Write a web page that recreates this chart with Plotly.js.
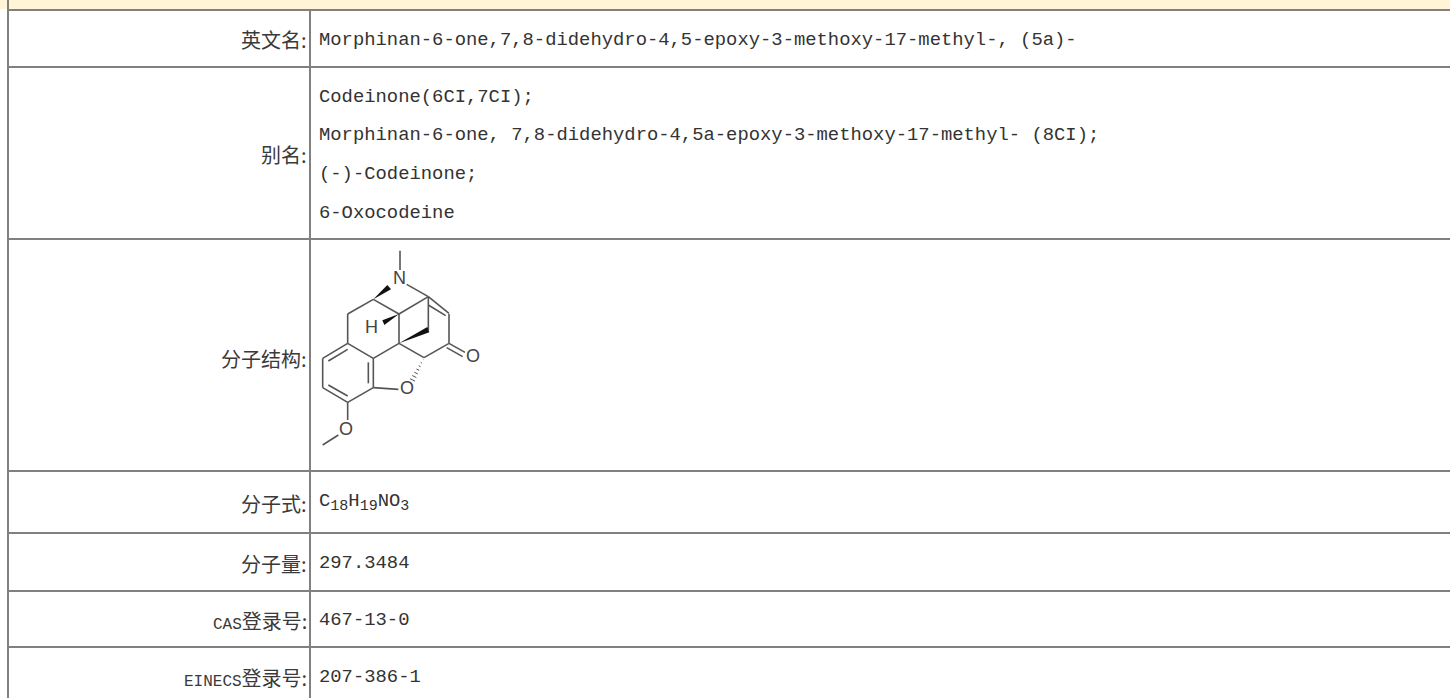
<!DOCTYPE html>
<html><head><meta charset="utf-8">
<script src="https://cdn.plot.ly/plotly-3.0.1.min.js"></script>
<style>html,body{margin:0;padding:0;background:#fff}#c{width:1450px;height:698px}</style>
</head><body><div id="c"></div>
<script>
const rowLinesY=[10,67,239,471,533,591,647];
const latin='font-family:Liberation Mono;font-size:16px';
const lat=s=>'<span style="'+latin+'">'+s+'</span>';
const labels=["英文名:","别名:","分子结构:","分子式:","分子量:",lat("CAS")+"登录号:",lat("EINECS")+"登录号:"];
const labelY=[39,154,358,503,563,620,677];
const sub=s=>'<sub><span style="font-size:15px">'+s+'</span></sub>';
const valueLines=[
 ["Morphinan-6-one,7,8-didehydro-4,5-epoxy-3-methoxy-17-methyl-, (5a)-",40],
 ["Codeinone(6CI,7CI);",97],
 ["Morphinan-6-one, 7,8-didehydro-4,5a-epoxy-3-methoxy-17-methyl- (8CI);",135],
 ["(-)-Codeinone;",174],
 ["6-Oxocodeine",213],
 ["C"+sub("18")+"H"+sub("19")+"NO"+sub("3"),502],
 ["297.3484",563],
 ["467-13-0",620],
 ["207-386-1",677]
];
const bonds=[[[300,47],[300,105]],[[320,148],[385,185]],[[220,193],[297,237]],[[220,193],[143,237]],[[143,237],[143,325]],
[[297,237],[385,185]],[[385,185],[447,235]],[[385,210],[437,242]],[[447,237],[447,325]],[[447,325],[495,352]],[[440,338],[488,365]],
[[447,325],[372,368]],[[372,368],[297,325]],[[220,458],[295,463]],[[143,325],[220,370]],[[220,370],[220,458]],[[220,458],[143,502]],
[[143,502],[68,458]],[[68,458],[68,370]],[[68,370],[143,325]],[[143,343],[85,378]],[[205,382],[205,445]],[[85,450],[143,483]],
[[297,237],[297,325]],[[297,325],[220,370]],[[385,285],[385,185]],[[143,502],[143,555]],[[115,600],[68,630]]];
const wedges=[[[220,193],[262,150],[273,163]],[[297,237],[247,256],[253,270]],[[297,325],[382,276],[388,292]]];
const hash=[[372,368],[335,440]];
const atoms=[["N",298,130],["H",215,275],["O",518,362],["O",320,458],["O",137,582]];
const mx=v=>300+v/3, my=v=>235+v/3;
const traces=[];
traces.push({x:[0,1450,1450,0,0],y:[0,0,9,9,0],mode:'lines',fill:'toself',fillcolor:'#FFF4D5',line:{width:0},hoverinfo:'skip'});
const lx=[],ly=[];
rowLinesY.forEach(y=>{lx.push(8,1450,null);ly.push(y,y,null)});
lx.push(8,8,null,310,310);ly.push(0,698,null,10,698);
traces.push({x:lx,y:ly,mode:'lines',line:{color:'#808080',width:2},hoverinfo:'skip'});
const bx=[],by=[];
bonds.forEach(b=>{bx.push(mx(b[0][0]),mx(b[1][0]),null);by.push(my(b[0][1]),my(b[1][1]),null)});
traces.push({x:bx,y:by,mode:'lines',line:{color:'#555',width:1.6},hoverinfo:'skip'});
wedges.forEach(w=>{traces.push({x:[...w,w[0]].map(p=>mx(p[0])),y:[...w,w[0]].map(p=>my(p[1])),mode:'lines',fill:'toself',fillcolor:'#111',line:{width:0},hoverinfo:'skip'})});
const hx=[],hy=[];const n=7;
for(let i=0;i<n;i++){const t=(i+0.5)/n,cx=hash[0][0]+(hash[1][0]-hash[0][0])*t,cy=hash[0][1]+(hash[1][1]-hash[0][1])*t,hw=t*9;
 hx.push(mx(cx-hw*0.9),mx(cx+hw*0.9),null);hy.push(my(cy-hw*0.45),my(cy+hw*0.45),null);}
traces.push({x:hx,y:hy,mode:'lines',line:{color:'#555',width:1},hoverinfo:'skip'});
const ann=[];
labels.forEach((t,i)=>ann.push({x:309,y:labelY[i],xref:'x',yref:'y',text:t,showarrow:false,xanchor:'right',yanchor:'middle',
 font:{family:'"Noto Sans CJK SC",sans-serif',size:20,color:'#3a3a3a'}}));
valueLines.forEach(v=>ann.push({x:317,y:v[1],xref:'x',yref:'y',text:v[0],showarrow:false,xanchor:'left',yanchor:'middle',
 font:{family:'"Liberation Mono",monospace',size:18.85,color:'#333'}}));
atoms.forEach(a=>ann.push({x:mx(a[1]),y:my(a[2]),xref:'x',yref:'y',text:a[0],showarrow:false,xanchor:'center',yanchor:'middle',
 font:{family:'"Liberation Sans",sans-serif',size:18,color:'#444'}}));
Plotly.newPlot('c',traces,{width:1450,height:698,margin:{l:0,r:0,t:0,b:0},showlegend:false,paper_bgcolor:'#fff',plot_bgcolor:'#fff',
 xaxis:{range:[0,1450],visible:false,fixedrange:true},yaxis:{range:[698,0],visible:false,fixedrange:true},annotations:ann},{displayModeBar:false,staticPlot:true});
</script></body></html>
